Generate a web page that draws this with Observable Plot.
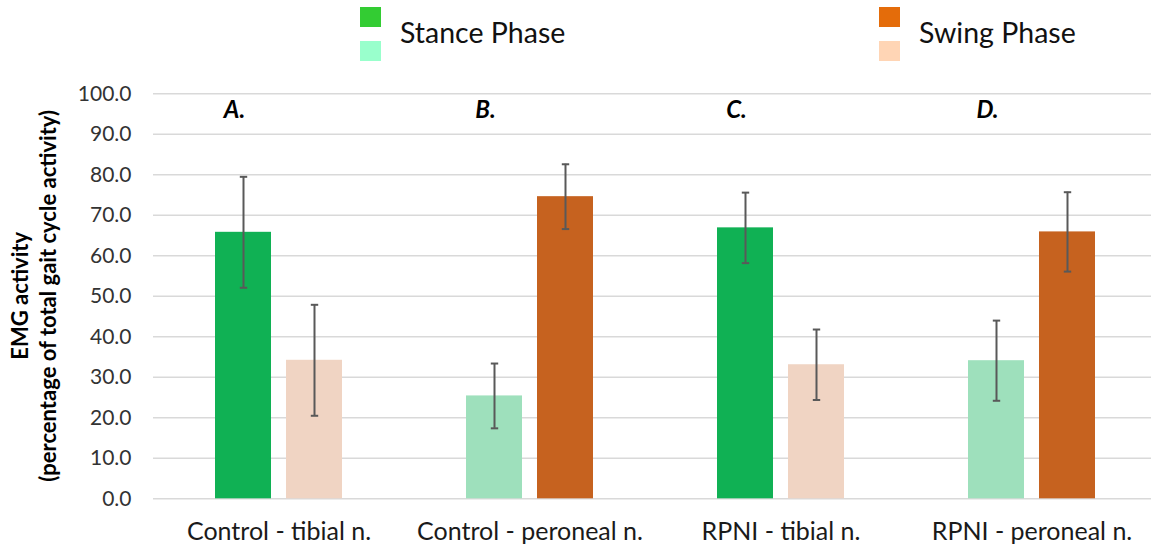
<!DOCTYPE html>
<html>
<head>
<meta charset="utf-8">
<script src="https://cdn.jsdelivr.net/npm/d3@7"></script>
<script src="https://cdn.jsdelivr.net/npm/@observablehq/plot@0.6"></script>
<style>
  html, body { margin: 0; padding: 0; background: #fff; overflow: hidden; }
  #wrap { position: relative; width: 1151px; height: 550px; font-family: Lato, "Open Sans", sans-serif; }
  #legend { position: relative; height: 70px; }
  .sw { position: absolute; width: 21px; height: 20px; }
  .lt { position: absolute; font-size: 28.5px; color: #111; line-height: 1; }
  #chart svg { overflow: hidden !important; display: block; }
</style>
</head>
<body>
<div id="wrap">
  <div id="legend"></div>
  <div id="chart"></div>
</div>
<script>
// Groups (muscle / condition) and the two gait phases
const groups = ["Control - tibial n.", "Control - peroneal n.", "RPNI - tibial n.", "RPNI - peroneal n."];
const panelLetters = ["A.", "B.", "C.", "D."];
const phases = ["Stance Phase", "Swing Phase"];

// Mean EMG activity (% of total gait cycle activity) and error (±)
const stanceMean = [65.8, 25.4, 66.9, 34.1];
const swingMean = [34.2, 74.6, 33.1, 65.9];
const stanceErr = [13.7, 8.0, 8.7, 9.9];
const swingErr = [13.7, 8.0, 8.7, 9.8];

// Which phase dominates each group (drawn in the saturated shade)
const dominantPhase = ["Stance Phase", "Swing Phase", "Stance Phase", "Swing Phase"];

const yTicks = [0, 10, 20, 30, 40, 50, 60, 70, 80, 90, 100];

// Colour keys
const barKeys = ["Stance Phase dark", "Stance Phase light", "Swing Phase dark", "Swing Phase light"];
const barColors = ["#10b154", "#9ee0bc", "#c6621f", "#f0d4c3"];
const legendColors = {"Stance Phase": ["#33cc33", "#99ffcc"], "Swing Phase": ["#e46c0a", "#ffd5b5"]};

// Build long-format table
const rows = [];
groups.forEach((g, i) => {
  phases.forEach(p => {
    const mean = p === "Stance Phase" ? stanceMean[i] : swingMean[i];
    const err = p === "Stance Phase" ? stanceErr[i] : swingErr[i];
    rows.push({group: g, phase: p, mean, lo: mean - err, hi: mean + err,
               key: p + (dominantPhase[i] === p ? " dark" : " light")});
  });
});
const letterRows = groups.map((g, i) => ({group: g, phase: phases[0], letter: panelLetters[i]}));

// Horizontal cap symbol for the error bars
const capSymbol = {
  draw(context, size) {
    const r = Math.sqrt(size / Math.PI);
    context.moveTo(-r, 0);
    context.lineTo(r, 0);
  }
};

const chart = Plot.plot({
  width: 1151,
  height: 480,
  marginLeft: 153,
  marginRight: -6,
  marginTop: 23.3,
  marginBottom: 51.7,
  style: {fontFamily: "Lato, 'Open Sans', sans-serif", background: "#fff", overflow: "hidden"},
  fx: {domain: groups, padding: 0, label: null},
  x: {domain: phases, paddingInner: 0.217, paddingOuter: 0.856, axis: null},
  y: {domain: [0, 100], label: null},
  color: {domain: barKeys, range: barColors, legend: false},
  marks: [
    Plot.ruleY(yTicks, {stroke: "#d9d9d9", strokeWidth: 1.5}),
    Plot.barY(rows, {fx: "group", x: "phase", y: "mean", fill: "key"}),
    Plot.ruleX(rows, {fx: "group", x: "phase", y1: "lo", y2: "hi", stroke: "#595959", strokeWidth: 2}),
    Plot.dot(rows, {fx: "group", x: "phase", y: "lo", symbol: capSymbol, r: 3.7, stroke: "#595959", strokeWidth: 2, fill: "none"}),
    Plot.dot(rows, {fx: "group", x: "phase", y: "hi", symbol: capSymbol, r: 3.7, stroke: "#595959", strokeWidth: 2, fill: "none"}),
    Plot.text(letterRows, {fx: "group", x: "phase", y: () => 96, text: "letter", dx: -9,
      fontSize: 24, fontWeight: "bold", fontStyle: "italic", fill: "#000"}),
    Plot.axisY({ticks: yTicks, tickFormat: d3.format(".1f"), tickSize: 0, tickPadding: 22,
      fontSize: 21, color: "#333", label: null}),
    Plot.axisFx({anchor: "bottom", tickSize: 0, tickPadding: 23, fontSize: 25, color: "#1a1a1a", label: null})
  ]
});
document.getElementById("chart").appendChild(chart);

// Two-line y-axis title
const svg = d3.select(chart);
const cy = 23.3 + (480 - 23.3 - 51.7) / 2;
const title = svg.append("text")
  .attr("transform", `translate(0,${cy}) rotate(-90)`)
  .attr("text-anchor", "middle")
  .attr("font-family", "Lato, 'Open Sans', sans-serif")
  .attr("font-weight", "bold")
  .attr("font-size", 22)
  .attr("fill", "#000");
title.append("tspan").attr("x", 0).attr("y", 28).text("EMG activity");
title.append("tspan").attr("x", 0).attr("y", 56).text("(percentage of total gait cycle activity)");

// Legend: two shades per phase
const legend = d3.select("#legend");
const legendPos = {"Stance Phase": 360, "Swing Phase": 879};
phases.forEach(p => {
  const x0 = legendPos[p];
  legend.append("div").attr("class", "sw").style("left", x0 + "px").style("top", "7px").style("background", legendColors[p][0]);
  legend.append("div").attr("class", "sw").style("left", x0 + "px").style("top", "41px").style("background", legendColors[p][1]);
  legend.append("div").attr("class", "lt").style("left", (x0 + 40) + "px").style("top", "18px").text(p);
});
</script>
</body>
</html>
